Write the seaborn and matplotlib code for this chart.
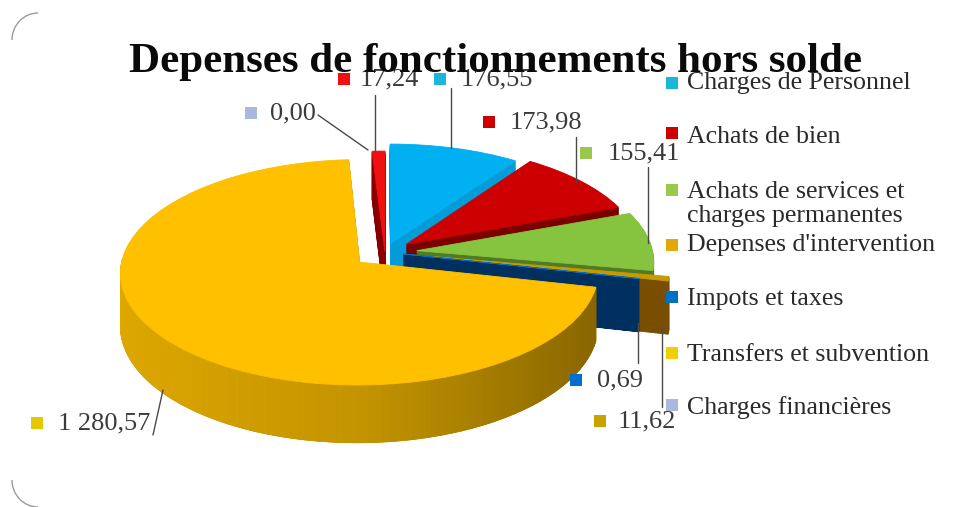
import numpy as np
import matplotlib
matplotlib.use("Agg")
import matplotlib.pyplot as plt
from matplotlib.transforms import Transform
from matplotlib.patches import Arc, Polygon
from matplotlib.colors import to_rgb
import seaborn as sns

# ---- data ----
series_names = ["Charges de Personnel", "Achats de bien", "Achats de services et\ncharges permanentes",
                "Depenses d'intervention", "Impots et taxes", "Transfers et subvention",
                "Charges financières", "Autres"]
series_values = [176.55, 173.98, 155.41, 11.62, 0.69, 1280.57, 0.00, 17.24]
value_labels = ["176,55", "173,98", "155,41", "11,62", "0,69", "1 280,57", "0,00", "17,24"]
chart_title = "Depenses de fonctionnements hors solde"

# ---- style ----
top_colors = sns.color_palette(["#00B0F0", "#CC0000", "#86C440", "#C79A00", "#0070C0", "#FFC000", "#A9B8DC", "#F01010"])
side_colors = sns.color_palette(["#049CD8", "#7A0000", "#4F7A26", "#7A4E00", "#00305F", "#B88C00", "#7485A8", "#8A0000"])
explode = [0.08, 0.115, 0.135, 0.20, 0.08, 0.14, 0.0, 0.0]
paint_order = [6, 7, 0, 1, 2, 3, 4, 5]
CX, CY, RX, RY, K, DEPTH = 385, 252, 236, 110, 0.09, 52
YELLOW = 5
wall_left, wall_mid, wall_right = map(np.array, map(to_rgb, ["#DFA800", "#C49400", "#866400"]))

sns.set_theme(style="white")
plt.rcParams["font.family"] = ["Liberation Serif", "DejaVu Serif"]

fig = plt.figure(figsize=(9.58, 5.07), dpi=100, facecolor="white")
ax = fig.add_axes([0, 0, 1, 1])


class Project(Transform):
    """Tilted-disc perspective used to give the pie its 3-D look."""
    input_dims = output_dims = 2

    def __init__(self, z=0):
        super().__init__()
        self.z = z

    def transform_non_affine(self, v):
        v = np.asarray(v, dtype=float)
        s = 1 / (1 + K * v[:, 1])
        return np.column_stack([CX + RX * v[:, 0] * s, CY - RY * v[:, 1] * s + self.z * s])


top_wedges = None
for z in range(DEPTH, -1, -1):
    colors = top_colors if z == 0 else side_colors
    wedges, _ = ax.pie(series_values, explode=explode, colors=colors, startangle=90, counterclock=False,
                       radius=1, normalize=True)
    for i, w in enumerate(wedges):
        w.set_transform(Project(z) + ax.transData)
        w.set_zorder(10 + paint_order.index(i) * 100 + (DEPTH - z) * 0.5)
        w.set_edgecolor(colors[i])
        w.set_linewidth(0.6)
        w.set_clip_on(False)
    top_wedges = wedges

# shaded rim of the large slice, walked along its arc
big = top_wedges[YELLOW]
th = np.radians(np.linspace(big.theta1, big.theta2, 181))
rim = np.column_stack([big.center[0] + np.cos(th), big.center[1] + np.sin(th)])
upper = Project(0).transform_non_affine(rim)
lower = Project(DEPTH).transform_non_affine(rim)
for j in range(len(th) - 1):
    if np.sin(th[j]) > 0.05:
        continue
    c = np.cos(th[j])
    shade = wall_mid + (wall_right - wall_mid) * c if c > 0 else wall_mid + (wall_left - wall_mid) * (-c)
    quad = np.vstack([upper[j:j + 2], lower[j:j + 2][::-1]])
    ax.add_patch(Polygon(quad, closed=True, facecolor=shade, edgecolor=shade, lw=0.6,
                         zorder=10 + paint_order.index(YELLOW) * 100 + 0.5 * (DEPTH - 1) + 0.1, clip_on=False))

ax.set_aspect("auto")
ax.set_xlim(0, 958)
ax.set_ylim(507, 0)
ax.axis("off")

# corner arcs of the chart frame
frame = "#9a9a9a"
ax.add_patch(Arc((38, 40), 52, 54, theta1=180, theta2=270, color=frame, lw=1.0, zorder=1))
ax.add_patch(Arc((38, 480), 52, 54, theta1=90, theta2=180, color=frame, lw=1.0, zorder=1))

# data labels: value index, square x, text x, y
label_spots = [(0, 440, 461, 79), (1, 489, 510, 122), (2, 586, 608, 153), (3, 600, 618, 421),
               (4, 576, 597, 380), (5, 37, 58, 423), (6, 251, 270, 113), (7, 344, 360, 79)]
label_colors = ["#19B7DC", "#CC0000", "#9BC84A", "#C9A400", "#0070D0", "#E6C800", "#A9B8DC", "#F01010"]
for idx, mx, tx, y in label_spots:
    ax.plot([mx], [y], marker="s", ms=8.5, color=label_colors[idx], mew=0, ls="none", zorder=2000)
    ax.text(tx, y, value_labels[idx], fontsize=19, color="#3a3a3a", va="center", ha="left", zorder=2001)

leaders = [((318, 115), (368, 150)), ((375, 95), (375, 152)), ((451, 88), (451, 148)), ((576, 137), (576, 182)),
           ((648, 167), (648, 243)), ((638, 323), (638, 363)), ((662, 327), (662, 407)), ((163, 390), (153, 435))]
for a, b in leaders:
    ax.plot([a[0], b[0]], [a[1], b[1]], color="#4a4a4a", lw=1.0, zorder=1999)

# legend
legend_spots = [(0, 83, 83), (1, 133, 137), (2, 190, 204), (3, 245, 245), (4, 297, 299), (5, 353, 355), (6, 405, 408)]
legend_colors = ["#19B7DC", "#CC0000", "#9BC84A", "#E0A800", "#0070C0", "#F0D000", "#A9B8DC"]
for idx, my, ty in legend_spots:
    ax.plot([672], [my], marker="s", ms=8.5, color=legend_colors[idx], mew=0, ls="none", zorder=2000)
    ax.text(687, ty, series_names[idx], fontsize=18.6, color="#2a2a2a", va="center", ha="left",
            linespacing=1.15, zorder=2001)

ax.text(496, 72, chart_title, fontsize=31, fontweight="bold", color="#0a0a0a", ha="center", va="baseline", zorder=3000)

fig.savefig("out.png", dpi=100, facecolor="white")
